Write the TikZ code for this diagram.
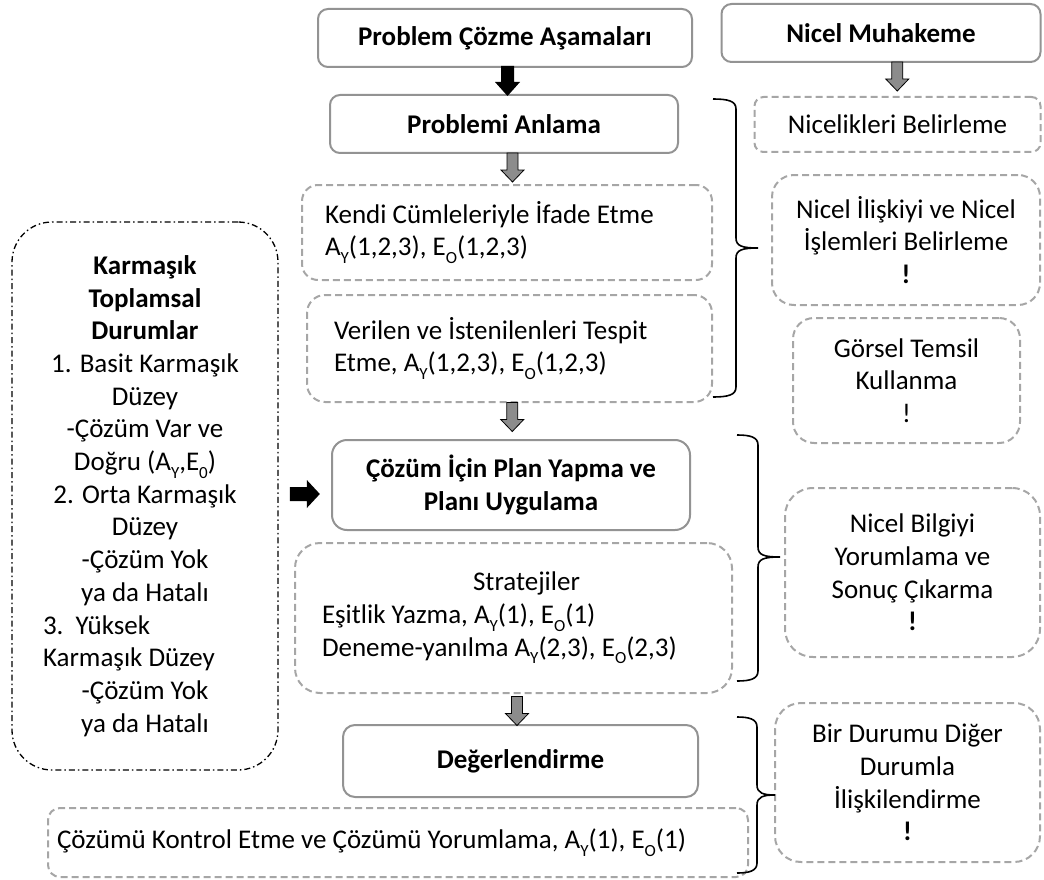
\documentclass[tikz,border=0pt]{standalone}
\usepackage{fontspec}
\setmainfont{Carlito}
\usetikzlibrary{calc}

\definecolor{framegray}{HTML}{939393}
\definecolor{dashgray}{HTML}{A6A6A6}
\definecolor{arrowgray}{HTML}{8C8C8C}

% lowered small index, as in A_Y and E_O
\newcommand\sbs[1]{\raisebox{-0.6ex}{\fontsize{17}{17}\selectfont #1}}

% curly brace: hook x, spine x, tip x, top y, tip y, bottom y
\newcommand\bracepath[6]{%
  \draw[bracestroke] (#1,#4) .. controls ({#2-8},#4) and (#2,{#4+2}) .. (#2,{#4+10})
    -- (#2,{#5-10}) .. controls (#2,{#5-2}) and ({#2+6},#5) .. (#3,#5)
    .. controls ({#2+6},#5) and (#2,{#5+2}) .. (#2,{#5+10})
    -- (#2,{#6-10}) .. controls (#2,{#6-2}) and ({#2-8},#6) .. (#1,#6);}

\begin{document}
\begin{tikzpicture}[x=1pt,y=-1pt,
  every node/.style={font=\fontsize{27}{32.7}\selectfont, inner sep=0pt},
  solidbox/.style={draw=framegray, line width=2pt, rectangle, align=flush center, font=\fontsize{27}{32.7}\selectfont\bfseries},
  dashbox/.style={draw=dashgray, line width=2pt, dash pattern=on 7pt off 4pt, rectangle},
  dashdotbox/.style={draw=black, line width=1.3pt, dash pattern=on 6pt off 3pt on 1.5pt off 3pt, rectangle},
  boxsize/.style 2 args={minimum width=#1pt, minimum height=#2pt},
  bracestroke/.style={draw=black, line width=1.6pt},
  downblock/.pic={\path[pic actions] (-6.5,-15) -- (-6.5,1) -- (-12.5,1) -- (0,15) -- (12.5,1) -- (6.5,1) -- (6.5,-15) -- cycle;},
  graydown/.pic={\path[pic actions] (-5.5,-14.5) -- (-5.5,2.5) -- (-11.5,2.5) -- (0,14.5) -- (11.5,2.5) -- (5.5,2.5) -- (5.5,-14.5) -- cycle;},
  rightblock/.pic={\path[pic actions] (-15,-7) -- (2,-7) -- (2,-14) -- (15,0) -- (2,14) -- (2,7) -- (-15,7) -- cycle;},
  blackarrow/.style={fill=black},
  grayarrow/.style={fill=arrowgray, draw=black, line width=0.8pt},
]
\useasboundingbox (0,0) rectangle (1044,880);

% stages of problem solving
\node[solidbox, rounded corners=10pt, boxsize={374}{58}] (stages) at (505,38) {Problem Çözme Aşamaları};
\node[solidbox, rounded corners=10pt, boxsize={348}{58}] (understand) at (504,124) {Problemi Anlama};
\node[dashbox, rounded corners=16pt, boxsize={410}{95}, text width=364pt, align=flush left] (restate) at (507,232.5)
  {Kendi Cümleleriyle İfade Etme\\ A\sbs{Y}(1,2,3), E\sbs{O}(1,2,3)};
\node[dashbox, rounded corners=18pt, boxsize={405}{107}, text width=351pt, align=flush left] (given) at (509.5,348.5)
  {Verilen ve İstenilenleri Tespit\\ Etme, A\sbs{Y}(1,2,3), E\sbs{O}(1,2,3)};
\node[solidbox, rounded corners=15pt, boxsize={358}{90}] (plan) at (511,485)
  {Çözüm İçin Plan Yapma ve\\ Planı Uygulama};
\node[dashbox, rounded corners=25pt, boxsize={437}{150}, text width=383pt, align=flush left] (strategies) at (513.5,618)
  {\makebox[383pt]{\hspace{26pt}Stratejiler}\\ Eşitlik Yazma, A\sbs{Y}(1), E\sbs{O}(1)\\ Deneme-yanılma A\sbs{Y}(2,3), E\sbs{O}(2,3)};
\node[solidbox, rounded corners=12pt, boxsize={355}{72}] (evaluate) at (520.5,761) {Değerlendirme};
\node[dashbox, rounded corners=12pt, boxsize={700}{69}, text width=682pt, align=flush left] (check) at (398,842.5)
  {Çözümü Kontrol Etme ve Çözümü Yorumlama, A\sbs{Y}(1), E\sbs{O}(1)};

% complex additive situations
\node[dashdotbox, rounded corners=40pt, boxsize={266}{548}, text width=204pt, align=flush center] (cases) at (145,496)
  {\textbf{Karmaşık}\\ \textbf{Toplamsal}\\ \textbf{Durumlar}\\ 1. Basit Karmaşık\\ Düzey\\ -Çözüm Var ve\\
   Doğru (A\sbs{Y},E\sbs{0})\\ 2. Orta Karmaşık\\ Düzey\\ -Çözüm Yok\\ ya da Hatalı\\
   \makebox[204pt][l]{3.\ \ Yüksek}\\ \makebox[204pt][l]{Karmaşık Düzey}\\ -Çözüm Yok\\ ya da Hatalı};

% quantitative reasoning
\node[solidbox, rounded corners=10pt, boxsize={319}{58}] (reasoning) at (881,33) {Nicel Muhakeme};
\node[dashbox, rounded corners=9pt, boxsize={286}{55}, align=flush center] (quantities) at (897.5,124.5) {Nicelikleri Belirleme};
\node[dashbox, rounded corners=22pt, boxsize={268}{130}, align=flush center] (relations) at (906,240)
  {Nicel İlişkiyi ve Nicel\\ İşlemleri Belirleme\\ \textbf{!}};
\node[dashbox, rounded corners=21pt, boxsize={227}{125}, align=flush center] (visual) at (906.5,380.5)
  {Görsel Temsil\\ Kullanma\\ !};
\node[dashbox, rounded corners=28pt, boxsize={255}{169}, align=flush center] (interpret) at (912.5,572.5)
  {Nicel Bilgiyi\\ Yorumlama ve\\ Sonuç Çıkarma\\ \textbf{!}};
\node[dashbox, rounded corners=26pt, boxsize={265}{159}, align=flush center] (relate) at (907.5,782.5)
  {Bir Durumu Diğer\\ Durumla\\ İlişkilendirme\\ \textbf{!}};

% block arrows between the stages
\pic[blackarrow] at ($(stages.south)!0.5!(understand.north)+(3,0)$) {downblock};
\pic[grayarrow] at ($(understand.south)!0.5!(restate.north)+(7,-1.5)$) {graydown};
\pic[grayarrow] at ($(given.south)!0.5!(plan.north)+(2,-4)$) {graydown};
\pic[grayarrow] at ($(strategies.south)!0.5!(evaluate.north)+(0,2)$) {graydown};
\pic[grayarrow] at ($(reasoning.south)!0.5!(quantities.north)+(8,-3)$) {graydown};
\pic[blackarrow] at ($(cases.east)!0.5!(plan.west)+(0,3.5)$) {rightblock};

% braces grouping the stages
\bracepath{713}{736}{758}{99}{248}{397}
\bracepath{737}{758}{780}{435}{557}{681}
\bracepath{737}{757}{775}{717}{795}{873}
\end{tikzpicture}
\end{document}
